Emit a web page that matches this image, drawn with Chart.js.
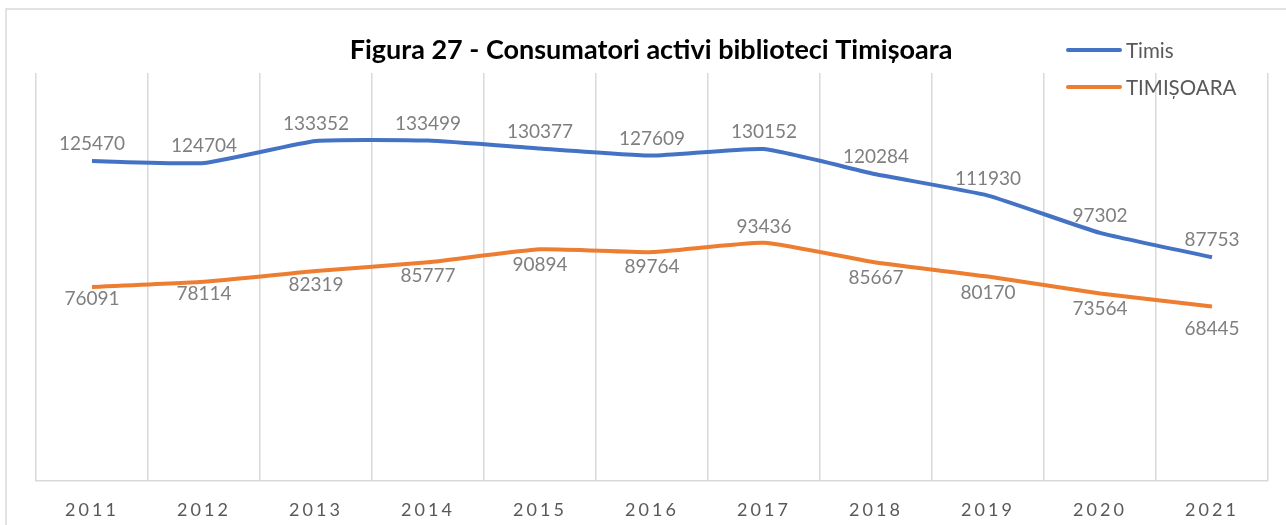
<!DOCTYPE html>
<html>
<head>
<meta charset="utf-8">
<script src="https://cdn.jsdelivr.net/npm/chart.js"></script>
<style>
  html, body { margin: 0; padding: 0; background: #fff; }
  #wrap { width: 1286px; height: 525px; position: relative; }
</style>
</head>
<body>
<div id="wrap"><canvas id="myChart" width="1286" height="525"></canvas></div>
<script>
var years = ['2011', '2012', '2013', '2014', '2015', '2016', '2017', '2018', '2019', '2020', '2021'];
var timis = [125470, 124704, 133352, 133499, 130377, 127609, 130152, 120284, 111930, 97302, 87753];
var timisoara = [76091, 78114, 82319, 85777, 90894, 89764, 93436, 85667, 80170, 73564, 68445];
var seriesNames = ['Timis', 'TIMIȘOARA'];
var chartTitle = 'Figura 27 - Consumatori activi biblioteci Timișoara';

var blue = '#4472C4';
var orange = '#ED7D31';
var grey = '#d9d9d9';
var font = 'Lato, "Open Sans", sans-serif';

// letter spacing for the x tick labels, reset before the lines are drawn
var spacing = {
    id: 'spacing',
    beforeDraw: function(chart) {
        var ctx = chart.ctx;
        // outer frame
        ctx.save();
        ctx.strokeStyle = grey;
        ctx.lineWidth = 1.5;
        ctx.strokeRect(6, 9, 1400, 700);
        ctx.restore();
        ctx.letterSpacing = '3px';
    },
    beforeDatasetsDraw: function(chart) {
        chart.ctx.letterSpacing = '0px';
    }
};

// value labels, legend and title drawn by hand
var extras = {
    id: 'extras',
    afterDatasetsDraw: function(chart) {
        var ctx = chart.ctx;
        ctx.save();
        ctx.font = '19px ' + font;
        ctx.fillStyle = '#7f7f7f';
        ctx.textAlign = 'center';
        ctx.textBaseline = 'middle';
        chart.data.datasets.forEach(function(ds, d) {
            var meta = chart.getDatasetMeta(d);
            meta.data.forEach(function(pt, i) {
                var dy = ds.labelOffset[i];
                ctx.fillText(ds.data[i].toString(), pt.x, pt.y + dy);
            });
        });

        // title
        ctx.font = 'bold 27px ' + font;
        ctx.fillStyle = '#000';
        ctx.fillText(chartTitle, 651, 50);

        // legend
        ctx.font = '20.5px ' + font;
        ctx.textAlign = 'left';
        ctx.lineCap = 'round';
        ctx.lineWidth = 4;
        var ys = [50, 87];
        chart.data.datasets.forEach(function(ds, d) {
            ctx.strokeStyle = ds.borderColor;
            ctx.beginPath();
            ctx.moveTo(1068, ys[d]);
            ctx.lineTo(1120, ys[d]);
            ctx.stroke();
            ctx.fillStyle = '#595959';
            ctx.fillText(ds.label, 1126, ys[d] + 1);
        });
        ctx.restore();
    }
};

var ctx = document.getElementById('myChart').getContext('2d');
var myChart = new Chart(ctx, {
    type: 'line',
    data: {
        labels: years,
        datasets: [{
            label: seriesNames[0],
            data: timis,
            borderColor: blue,
            backgroundColor: blue,
            borderWidth: 4,
            pointRadius: 0,
            tension: 0.15,
            fill: false,
            labelOffset: [-17, -17, -17, -17, -17, -17, -17, -17, -17, -17, -17]
        }, {
            label: seriesNames[1],
            data: timisoara,
            borderColor: orange,
            backgroundColor: orange,
            borderWidth: 4,
            pointRadius: 0,
            tension: 0.15,
            fill: false,
            labelOffset: [12, 12, 14, 14, 16, 15, -16, 15, 16, 15, 22]
        }]
    },
    options: {
        responsive: false,
        animation: false,
        layout: { padding: { top: 73, left: 36, right: 18, bottom: 0 } },
        plugins: {
            legend: { display: false },
            title: { display: false },
            tooltip: { enabled: false }
        },
        scales: {
            x: {
                offset: true,
                grid: { offset: true, color: grey, lineWidth: 1.5, drawTicks: false },
                border: { color: grey, width: 1.5 },
                ticks: { color: '#595959', font: { family: font, size: 18 }, padding: 18, maxRotation: 0 },
                afterFit: function(s) { s.height = 44; }
            },
            y: {
                display: false,
                min: 0,
                max: 160000
            }
        }
    },
    plugins: [spacing, extras]
});
</script>
</body>
</html>
